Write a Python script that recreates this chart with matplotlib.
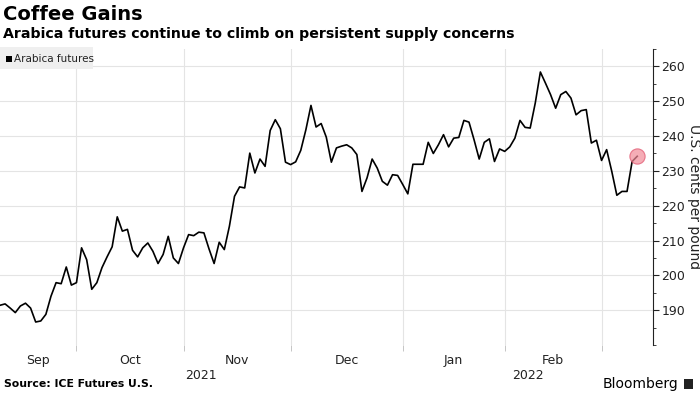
import numpy as np
import pandas as pd
import matplotlib
matplotlib.use('Agg')
import matplotlib.pyplot as plt
from matplotlib.patches import Rectangle

# Arabica futures, U.S. cents per pound, daily settles
START = '2021-09-10'
END = '2022-03-10'
HOLIDAYS = ['2021-11-25', '2021-12-24', '2022-01-17', '2022-02-21']

prices = [
    191.4, 191.8, 190.6, 189.3, 191.2, 192.0, 190.6, 186.6, 186.9, 188.8,
    194.0, 197.9, 197.6, 202.4, 197.2, 197.9, 207.9, 204.5, 196.0, 197.9,
    202.2, 205.3, 208.2, 216.8, 212.7, 213.2, 207.2, 205.3, 207.9, 209.3,
    206.9, 203.4, 206.0, 211.2, 205.0, 203.4, 207.9, 211.7, 211.4, 212.4,
    212.2, 207.6, 203.4, 209.5, 207.4, 214.1, 222.7, 225.4, 225.1, 235.1,
    229.4, 233.4, 231.3, 241.6, 244.7, 242.1, 232.5, 231.8, 232.6, 235.9,
    241.8, 248.8, 242.6, 243.6, 239.7, 232.5, 236.6, 237.1, 237.5, 236.6,
    234.7, 224.1, 228.0, 233.4, 230.8, 227.0, 225.9, 228.9, 228.7, 226.1,
    223.4, 231.9, 231.9, 231.9, 238.2, 235.0, 237.5, 240.4, 236.9, 239.4,
    239.6, 244.5, 244.0, 238.9, 233.4, 238.2, 239.2, 232.7, 236.3, 235.6,
    236.9, 239.4, 244.5, 242.5, 242.3, 249.5, 258.4, 255.2, 251.9, 248.0,
    251.9, 252.8, 250.9, 246.1, 247.3, 247.6, 238.0, 238.8, 233.0, 236.1,
    229.9, 223.0, 224.1, 224.1, 232.7, 234.2,
]

yticks = [190, 200, 210, 220, 230, 240, 250, 260]

dates = pd.bdate_range(START, END)
dates = dates[~dates.isin(pd.to_datetime(HOLIDAYS))]
idx = np.arange(len(dates))

GRID = '#e4e4e4'
TXT = '#222222'

fig = plt.figure(figsize=(7, 3.94), dpi=100)
ax = fig.add_axes([0.0, 0.1244, 0.9329, 0.7512])

ax.plot(idx, prices, color='black', lw=1.2, zorder=3)
ax.plot(idx[-1], prices[-1], 'o', ms=11, mfc='#f28a98', mec='#e0506a',
        mew=0.8, alpha=0.7, zorder=4)

xmax = 128.1
ax.set_xlim(0, xmax)
ax.set_ylim(180, 265)

# y axis on the right
ax.yaxis.tick_right()
ax.yaxis.set_label_position('right')
ax.set_yticks(yticks)
ax.set_yticks(np.arange(180, 266, 5), minor=True)
ax.tick_params(axis='y', which='major', length=4, width=0.8, colors=TXT,
               labelsize=9, pad=2)
ax.tick_params(axis='y', which='minor', length=2, width=0.6, color=TXT)
ax.set_ylabel('U.S. cents per pound', rotation=-90, labelpad=11,
              fontsize=10, color=TXT)
for s in ['top', 'left', 'bottom']:
    ax.spines[s].set_visible(False)
ax.spines['right'].set_linewidth(0.8)
ax.spines['right'].set_color(TXT)

# month boundaries (first trading day of each month)
months = dates.to_period('M')
starts = [i for i in range(1, len(dates)) if months[i] != months[i - 1]]
ax.set_xticks(starts)
ax.set_xticklabels([])
ax.tick_params(axis='x', length=4, color='#bbbbbb', width=0.6)
ax.grid(True, axis='both', color=GRID, lw=0.8, zorder=0)
ax.set_axisbelow(True)

# month labels centred in each visible month, years below
edges = [0] + starts + [xmax]
for a, b in zip(edges[:-1], edges[1:]):
    if b - a < 12:
        continue
    lbl = dates[int(a)].strftime('%b')
    ax.text((a + b) / 2, -0.03, lbl, transform=ax.get_xaxis_transform(),
            ha='center', va='top', fontsize=9, color=TXT)
years = dates.year
ystarts = [0] + [i for i in range(1, len(dates)) if years[i] != years[i - 1]]
yedges = ystarts + [xmax]
for a, b in zip(yedges[:-1], yedges[1:]):
    ax.text((a + b) / 2, -0.08, str(years[int(a)]),
            transform=ax.get_xaxis_transform(),
            ha='center', va='top', fontsize=9, color=TXT)

# legend box
fig.patches.append(Rectangle((0, 1 - 69 / 394), 93 / 700, 22 / 394,
                             transform=fig.transFigure, facecolor='#efefef',
                             edgecolor='none', zorder=5))
fig.patches.append(Rectangle((6 / 700, 1 - 62 / 394), 6 / 700, 6 / 394,
                             transform=fig.transFigure, facecolor='black',
                             edgecolor='none', zorder=6))
fig.text(14 / 700, 1 - 58.5 / 394, 'Arabica futures', fontsize=7.5,
         va='center', ha='left', color=TXT, zorder=6)

# titles
fig.text(3 / 700, 1 - 14 / 394, 'Coffee Gains', fontsize=14,
         fontweight='bold', va='center', ha='left')
fig.text(3 / 700, 1 - 34 / 394,
         'Arabica futures continue to climb on persistent supply concerns',
         fontsize=10.2, fontweight='bold', va='center', ha='left')

# footer
fig.text(4 / 700, 1 - 384 / 394, 'Source: ICE Futures U.S.', fontsize=7.8,
         fontweight='bold', va='center', ha='left')
fig.text(678 / 700, 1 - 384 / 394, 'Bloomberg', fontsize=10,
         va='center', ha='right', color='black')
fig.patches.append(Rectangle((684 / 700, 1 - 389 / 394), 9 / 700, 10 / 394,
                             transform=fig.transFigure, facecolor='#222222',
                             edgecolor='none'))

fig.savefig('out.png', dpi=100)
